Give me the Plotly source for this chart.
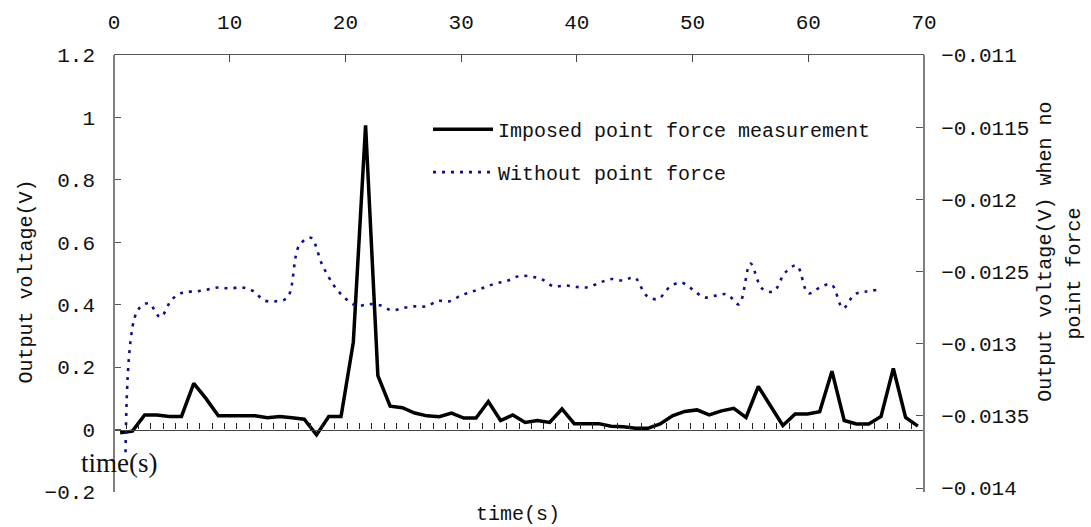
import plotly.graph_objects as go

# ---------------- data ----------------
sample_index = list(range(1, 67))  # categories on the bottom (time) axis
imposed_force_v = [
    -0.010, -0.005, 0.047, 0.047, 0.042, 0.042, 0.148, 0.099, 0.044, 0.044,
    0.044, 0.044, 0.038, 0.042, 0.038, 0.033, -0.017, 0.042, 0.042, 0.280,
    0.975, 0.173, 0.075, 0.070, 0.053, 0.044, 0.041, 0.053, 0.037, 0.037,
    0.090, 0.029, 0.047, 0.023, 0.029, 0.023, 0.066, 0.019, 0.019, 0.019,
    0.011, 0.009, 0.004, 0.004, 0.018, 0.044, 0.058, 0.063, 0.047, 0.060,
    0.068, 0.039, 0.138, 0.075, 0.013, 0.050, 0.050, 0.057, 0.187, 0.029,
    0.018, 0.018, 0.042, 0.196, 0.039, 0.011,
]

time_s = list(range(1, 67))
no_force_v = [
    -0.013752, -0.012775, -0.012720, -0.012816, -0.012693, -0.012644, -0.012638, -0.012626, -0.012610, -0.012617,
    -0.012610, -0.012634, -0.012700, -0.012706, -0.012679, -0.012321, -0.012266, -0.012454, -0.012596, -0.012686,
    -0.012737, -0.012725, -0.012734, -0.012768, -0.012752, -0.012741, -0.012741, -0.012703, -0.012706, -0.012665,
    -0.012638, -0.012610, -0.012582, -0.012564, -0.012531, -0.012534, -0.012555, -0.012603, -0.012596, -0.012607,
    -0.012608, -0.012576, -0.012552, -0.012562, -0.012541, -0.012665, -0.012691, -0.012610, -0.012576, -0.012624,
    -0.012679, -0.012667, -0.012658, -0.012727, -0.012445, -0.012617, -0.012638, -0.012507, -0.012459, -0.012651,
    -0.012610, -0.012589, -0.012754, -0.012658, -0.012638, -0.012627,
]

left_tickvals = [-0.2, 0, 0.2, 0.4, 0.6, 0.8, 1.0, 1.2]
top_tickvals = [0, 10, 20, 30, 40, 50, 60, 70]
right_tickvals = [-0.014, -0.0135, -0.013, -0.0125, -0.012, -0.0115, -0.011]
right_ticktext = ["\u22120.014", "\u22120.0135", "\u22120.013", "\u22120.0125",
                  "\u22120.012", "\u22120.0115", "\u22120.011"]

series_names = ["Imposed point force measurement", "Without point force"]

# ---------------- figure ----------------
MONO = "Liberation Mono"
SERIF = "Liberation Serif"
TXT = "#111111"

fig = go.Figure()
fig.add_trace(go.Scatter(
    x=sample_index, y=imposed_force_v, xaxis="x", yaxis="y",
    mode="lines", name=series_names[0], legendgroup="a",
    line=dict(color="black", width=3.5),
))
fig.add_trace(go.Scatter(
    x=time_s, y=no_force_v, xaxis="x2", yaxis="y2",
    mode="lines", name=series_names[1], legendgroup="b",
    line=dict(color="#10108a", width=2.6, dash="3px,6px", shape="spline", smoothing=1),
))

y_lo, y_hi = -0.2, 1.2
fig.update_layout(
    width=1091, height=527,
    margin=dict(l=114, r=167, t=52, b=35),
    paper_bgcolor="white", plot_bgcolor="white",
    font=dict(family=MONO, size=20, color=TXT),
    showlegend=True,
    legend=dict(
        x=(428 - 114) / 810, y=(492 - 107) / 440, xanchor="left", yanchor="top",
        bgcolor="rgba(0,0,0,0)", borderwidth=0,
        font=dict(family=MONO, size=20, color=TXT),
        traceorder="grouped", tracegroupgap=14, itemwidth=60,
    ),
    xaxis=dict(
        domain=[0, 1], range=[0.5, 66.5], anchor="free",
        position=(0 - y_lo) / (y_hi - y_lo),
        tick0=0.5, dtick=1, ticks="inside", ticklen=6, tickwidth=1, tickcolor="#222",
        showticklabels=False, showline=True, linecolor="#444", linewidth=1.3,
        showgrid=False, zeroline=False,
    ),
    xaxis2=dict(
        overlaying="x", side="top", anchor="y", range=[0, 70],
        tickvals=top_tickvals, ticks="inside", ticklen=7, tickcolor="#444",
        showline=True, linecolor="#555", linewidth=1.3,
        tickfont=dict(family=MONO, size=21, color=TXT), ticklabelstandoff=16,
        showgrid=False, zeroline=False,
    ),
    yaxis=dict(
        domain=[0, 1], range=[y_lo, y_hi], anchor="free", position=0,
        tickvals=left_tickvals, ticks="inside", ticklen=6, tickcolor="#555",
        showline=True, linecolor="#808080", linewidth=1.6,
        tickfont=dict(family=MONO, size=21, color=TXT), ticklabelstandoff=14,
        showgrid=False, zeroline=False,
    ),
    yaxis2=dict(
        overlaying="y", side="right", anchor="free", position=1,
        range=[-0.014027, -0.011],
        tickvals=right_tickvals, ticktext=right_ticktext,
        ticks="inside", ticklen=7, tickcolor="#555",
        showline=True, linecolor="#808080", linewidth=2,
        tickfont=dict(family=MONO, size=21, color=TXT), ticklabelstandoff=12,
        showgrid=False, zeroline=False,
    ),
    annotations=[
        dict(text="Output voltage(V)", xref="paper", yref="paper",
             x=(26 - 114) / 810, y=(492 - 280) / 440, textangle=-90,
             xanchor="center", yanchor="middle", showarrow=False,
             font=dict(family=MONO, size=20, color=TXT)),
        dict(text="Output voltage(V) when no", xref="paper", yref="paper",
             x=(1046 - 114) / 810, y=(492 - 250) / 440, textangle=-90,
             xanchor="center", yanchor="middle", showarrow=False,
             font=dict(family=MONO, size=20, color=TXT)),
        dict(text="point force", xref="paper", yref="paper",
             x=(1074 - 114) / 810, y=(492 - 272) / 440, textangle=-90,
             xanchor="center", yanchor="middle", showarrow=False,
             font=dict(family=MONO, size=20, color=TXT)),
        dict(text="time(s)", xref="paper", yref="paper",
             x=(119 - 114) / 810, y=(492 - 463) / 440,
             xanchor="center", yanchor="middle", showarrow=False,
             font=dict(family=SERIF, size=27, color=TXT)),
        dict(text="time(s)", xref="paper", yref="paper",
             x=(518 - 114) / 810, y=(492 - 515) / 440,
             xanchor="center", yanchor="middle", showarrow=False,
             font=dict(family=MONO, size=20, color=TXT)),
    ],
)

fig.write_html(
    "out.html",
    config={"displayModeBar": False},
    post_script="document.body.style.margin='0';document.body.style.overflow='hidden';",
)
